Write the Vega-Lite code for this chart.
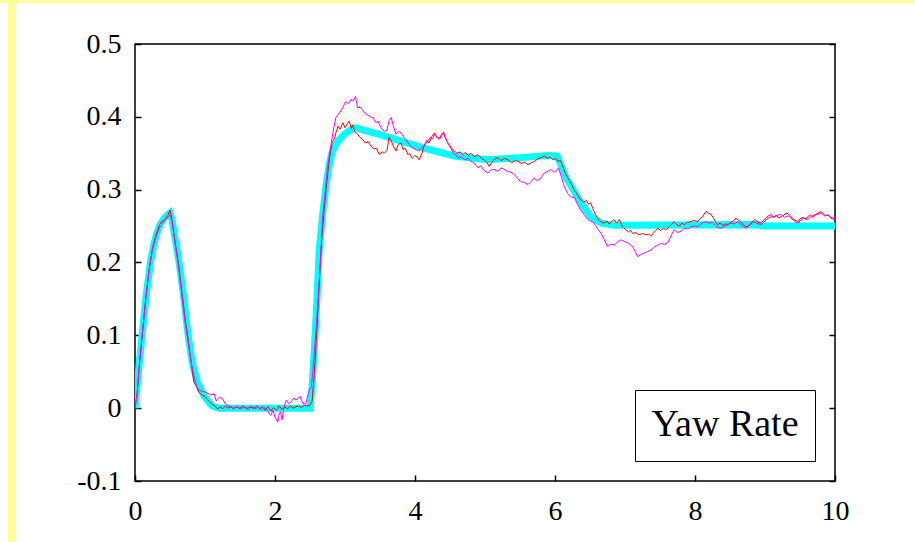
{
"$schema": "https://vega.github.io/schema/vega-lite/v6.json",
"background": "white",
"padding": 0,
"autosize": {"type": "pad"},
"config": {"view": {"stroke": null}, "concat": {"spacing": 0}},
"spacing": 0,
"resolve": {"scale": {"color": "independent"}, "legend": {"color": "independent"}},
"vconcat": [
 {"width": 915, "height": 3, "view": {"fill": "#ffff99", "stroke": null}, "data": {"values": []}, "mark": "point", "encoding": {}},
 {"spacing": 0,
  "resolve": {"scale": {"color": "independent"}, "legend": {"color": "independent"}},
  "hconcat": [
  {"width": 8, "height": 539, "view": {"stroke": null}, "data": {"values": []}, "mark": "point", "encoding": {}},
  {"width": 8, "height": 539, "view": {"fill": "#ffff99", "stroke": null}, "data": {"values": []}, "mark": "point", "encoding": {}},
  {"spacing": 0,
   "resolve": {"scale": {"color": "independent"}, "legend": {"color": "independent"}},
   "vconcat": [
   {"width": 1, "height": 26, "view": {"stroke": null}, "data": {"values": []}, "mark": "point", "encoding": {}},
  {
   "width": 700, "height": 437,
   "view": {"stroke": "black", "strokeWidth": 1.5, "fill": "white"},
   "data": {"values": [
{"s":"model","t":0,"v":0},{"s":"model","t":0.05,"v":0.05},{"s":"model","t":0.1,"v":0.1},{"s":"model","t":0.16,"v":0.155},{"s":"model","t":0.22,"v":0.2},{"s":"model","t":0.27,"v":0.225},{"s":"model","t":0.31,"v":0.24},{"s":"model","t":0.36,"v":0.252},{"s":"model","t":0.41,"v":0.26},{"s":"model","t":0.46,"v":0.265},{"s":"model","t":0.5,"v":0.268},{"s":"model","t":0.53,"v":0.258},{"s":"model","t":0.56,"v":0.24},{"s":"model","t":0.63,"v":0.2},{"s":"model","t":0.7,"v":0.149},{"s":"model","t":0.76,"v":0.099},{"s":"model","t":0.82,"v":0.061},{"s":"model","t":0.89,"v":0.036},{"s":"model","t":0.99,"v":0.016},{"s":"model","t":1.1,"v":0.003},{"s":"model","t":1.2,"v":0},{"s":"model","t":2.5,"v":0},{"s":"model","t":2.53,"v":0.03},{"s":"model","t":2.56,"v":0.077},{"s":"model","t":2.6,"v":0.15},{"s":"model","t":2.63,"v":0.215},{"s":"model","t":2.68,"v":0.265},{"s":"model","t":2.73,"v":0.307},{"s":"model","t":2.78,"v":0.337},{"s":"model","t":2.82,"v":0.353},{"s":"model","t":2.88,"v":0.364},{"s":"model","t":2.94,"v":0.371},{"s":"model","t":3.0,"v":0.377},{"s":"model","t":3.06,"v":0.381},{"s":"model","t":3.15,"v":0.385},{"s":"model","t":3.25,"v":0.382},{"s":"model","t":3.49,"v":0.376},{"s":"model","t":3.82,"v":0.366},{"s":"model","t":4.13,"v":0.357},{"s":"model","t":4.56,"v":0.346},{"s":"model","t":5.04,"v":0.341},{"s":"model","t":5.51,"v":0.344},{"s":"model","t":5.9,"v":0.347},{"s":"model","t":6.03,"v":0.346},{"s":"model","t":6.09,"v":0.333},{"s":"model","t":6.16,"v":0.316},{"s":"model","t":6.23,"v":0.305},{"s":"model","t":6.37,"v":0.282},{"s":"model","t":6.51,"v":0.263},{"s":"model","t":6.66,"v":0.254},{"s":"model","t":6.85,"v":0.251},{"s":"model","t":8.9,"v":0.252},{"s":"model","t":8.95,"v":0.25},{"s":"model","t":10,"v":0.25},
{"s":"run1","t":0,"v":0},{"s":"run1","t":0.03,"v":0.02},{"s":"run1","t":0.06,"v":0.058},{"s":"run1","t":0.1,"v":0.098},{"s":"run1","t":0.15,"v":0.148},{"s":"run1","t":0.2,"v":0.19},{"s":"run1","t":0.25,"v":0.22},{"s":"run1","t":0.3,"v":0.238},{"s":"run1","t":0.35,"v":0.252},{"s":"run1","t":0.38,"v":0.256},{"s":"run1","t":0.42,"v":0.258},{"s":"run1","t":0.47,"v":0.265},{"s":"run1","t":0.5,"v":0.272},{"s":"run1","t":0.53,"v":0.258},{"s":"run1","t":0.57,"v":0.23},{"s":"run1","t":0.62,"v":0.2},{"s":"run1","t":0.67,"v":0.16},{"s":"run1","t":0.72,"v":0.12},{"s":"run1","t":0.76,"v":0.095},{"s":"run1","t":0.8,"v":0.065},{"s":"run1","t":0.84,"v":0.036},{"s":"run1","t":0.88,"v":0.03},{"s":"run1","t":0.91,"v":0.022},{"s":"run1","t":0.96,"v":0.018},{"s":"run1","t":1.0,"v":0.016},{"s":"run1","t":1.05,"v":0.01},{"s":"run1","t":1.1,"v":0.006},
{"s":"run1","t":1.14,"v":0.003},{"s":"run1","t":1.18,"v":-0.001},{"s":"run1","t":1.22,"v":0.002},{"s":"run1","t":1.25,"v":-0.001},{"s":"run1","t":1.29,"v":0.003},{"s":"run1","t":1.33,"v":0.0},{"s":"run1","t":1.37,"v":0.002},{"s":"run1","t":1.41,"v":-0.001},{"s":"run1","t":1.45,"v":0.002},{"s":"run1","t":1.5,"v":0.0},{"s":"run1","t":1.54,"v":0.003},{"s":"run1","t":1.58,"v":0.0},{"s":"run1","t":1.62,"v":-0.002},{"s":"run1","t":1.66,"v":0.002},{"s":"run1","t":1.7,"v":0.0},{"s":"run1","t":1.74,"v":0.003},{"s":"run1","t":1.78,"v":-0.001},{"s":"run1","t":1.82,"v":0.002},{"s":"run1","t":1.86,"v":-0.003},{"s":"run1","t":1.9,"v":0.002},{"s":"run1","t":1.94,"v":-0.004},{"s":"run1","t":1.98,"v":0.001},{"s":"run1","t":2.02,"v":-0.003},{"s":"run1","t":2.06,"v":0.003},{"s":"run1","t":2.1,"v":-0.002},{"s":"run1","t":2.14,"v":0.002},{"s":"run1","t":2.18,"v":-0.001},{"s":"run1","t":2.22,"v":0.003},{"s":"run1","t":2.26,"v":0.0},{"s":"run1","t":2.3,"v":0.002},{"s":"run1","t":2.34,"v":0.003},{"s":"run1","t":2.38,"v":0.001},{"s":"run1","t":2.42,"v":0.004},{"s":"run1","t":2.46,"v":0.003},{"s":"run1","t":2.5,"v":0.004},
{"s":"run1","t":2.53,"v":0.01},{"s":"run1","t":2.56,"v":0.045},{"s":"run1","t":2.6,"v":0.11},{"s":"run1","t":2.63,"v":0.169},{"s":"run1","t":2.67,"v":0.235},{"s":"run1","t":2.7,"v":0.27},{"s":"run1","t":2.74,"v":0.31},{"s":"run1","t":2.78,"v":0.344},{"s":"run1","t":2.82,"v":0.366},{"s":"run1","t":2.85,"v":0.37},{"s":"run1","t":2.87,"v":0.378},{"s":"run1","t":2.9,"v":0.387},{"s":"run1","t":2.93,"v":0.383},{"s":"run1","t":2.97,"v":0.392},{"s":"run1","t":3.0,"v":0.385},{"s":"run1","t":3.03,"v":0.39},{"s":"run1","t":3.06,"v":0.394},{"s":"run1","t":3.09,"v":0.384},{"s":"run1","t":3.11,"v":0.389},{"s":"run1","t":3.14,"v":0.38},{"s":"run1","t":3.18,"v":0.376},{"s":"run1","t":3.21,"v":0.372},{"s":"run1","t":3.25,"v":0.369},{"s":"run1","t":3.29,"v":0.364},{"s":"run1","t":3.33,"v":0.366},{"s":"run1","t":3.37,"v":0.36},{"s":"run1","t":3.41,"v":0.356},{"s":"run1","t":3.45,"v":0.357},{"s":"run1","t":3.49,"v":0.348},{"s":"run1","t":3.53,"v":0.352},{"s":"run1","t":3.56,"v":0.35},{"s":"run1","t":3.6,"v":0.354},{"s":"run1","t":3.63,"v":0.372},{"s":"run1","t":3.66,"v":0.367},{"s":"run1","t":3.69,"v":0.36},{"s":"run1","t":3.73,"v":0.353},{"s":"run1","t":3.76,"v":0.362},{"s":"run1","t":3.8,"v":0.364},{"s":"run1","t":3.83,"v":0.355},{"s":"run1","t":3.86,"v":0.357},{"s":"run1","t":3.9,"v":0.348},{"s":"run1","t":3.92,"v":0.35},{"s":"run1","t":3.96,"v":0.343},{"s":"run1","t":4.0,"v":0.347},{"s":"run1","t":4.04,"v":0.344},{"s":"run1","t":4.06,"v":0.341},{"s":"run1","t":4.1,"v":0.35},{"s":"run1","t":4.13,"v":0.36},{"s":"run1","t":4.17,"v":0.368},{"s":"run1","t":4.2,"v":0.364},{"s":"run1","t":4.24,"v":0.373},{"s":"run1","t":4.28,"v":0.378},{"s":"run1","t":4.31,"v":0.372},{"s":"run1","t":4.35,"v":0.371},{"s":"run1","t":4.38,"v":0.376},{"s":"run1","t":4.41,"v":0.379},{"s":"run1","t":4.44,"v":0.37},{"s":"run1","t":4.47,"v":0.364},{"s":"run1","t":4.5,"v":0.36},{"s":"run1","t":4.53,"v":0.356},{"s":"run1","t":4.56,"v":0.353},{"s":"run1","t":4.6,"v":0.35},{"s":"run1","t":4.64,"v":0.352},{"s":"run1","t":4.68,"v":0.348},{"s":"run1","t":4.72,"v":0.351},{"s":"run1","t":4.76,"v":0.347},{"s":"run1","t":4.8,"v":0.35},{"s":"run1","t":4.85,"v":0.345},{"s":"run1","t":4.9,"v":0.348},{"s":"run1","t":4.95,"v":0.343},{"s":"run1","t":4.99,"v":0.341},{"s":"run1","t":5.03,"v":0.337},{"s":"run1","t":5.06,"v":0.332},{"s":"run1","t":5.1,"v":0.338},{"s":"run1","t":5.14,"v":0.342},{"s":"run1","t":5.18,"v":0.344},{"s":"run1","t":5.23,"v":0.34},{"s":"run1","t":5.28,"v":0.343},{"s":"run1","t":5.33,"v":0.341},{"s":"run1","t":5.38,"v":0.337},{"s":"run1","t":5.43,"v":0.34},{"s":"run1","t":5.47,"v":0.339},{"s":"run1","t":5.52,"v":0.336},{"s":"run1","t":5.57,"v":0.338},{"s":"run1","t":5.61,"v":0.334},{"s":"run1","t":5.66,"v":0.337},{"s":"run1","t":5.71,"v":0.339},{"s":"run1","t":5.75,"v":0.342},{"s":"run1","t":5.8,"v":0.344},{"s":"run1","t":5.85,"v":0.346},{"s":"run1","t":5.89,"v":0.343},{"s":"run1","t":5.93,"v":0.345},{"s":"run1","t":5.97,"v":0.341},{"s":"run1","t":6.01,"v":0.343},{"s":"run1","t":6.04,"v":0.339},{"s":"run1","t":6.08,"v":0.34},{"s":"run1","t":6.11,"v":0.332},{"s":"run1","t":6.15,"v":0.322},{"s":"run1","t":6.19,"v":0.315},{"s":"run1","t":6.23,"v":0.309},{"s":"run1","t":6.27,"v":0.3},{"s":"run1","t":6.3,"v":0.296},{"s":"run1","t":6.34,"v":0.29},{"s":"run1","t":6.37,"v":0.286},{"s":"run1","t":6.41,"v":0.283},{"s":"run1","t":6.45,"v":0.285},{"s":"run1","t":6.48,"v":0.28},{"s":"run1","t":6.51,"v":0.282},{"s":"run1","t":6.54,"v":0.274},{"s":"run1","t":6.56,"v":0.27},{"s":"run1","t":6.6,"v":0.262},{"s":"run1","t":6.63,"v":0.258},{"s":"run1","t":6.66,"v":0.256},{"s":"run1","t":6.7,"v":0.254},{"s":"run1","t":6.74,"v":0.257},{"s":"run1","t":6.77,"v":0.253},{"s":"run1","t":6.8,"v":0.255},{"s":"run1","t":6.84,"v":0.259},{"s":"run1","t":6.88,"v":0.254},{"s":"run1","t":6.92,"v":0.259},{"s":"run1","t":6.96,"v":0.25},{"s":"run1","t":7.01,"v":0.245},{"s":"run1","t":7.05,"v":0.242},{"s":"run1","t":7.08,"v":0.244},{"s":"run1","t":7.11,"v":0.24},{"s":"run1","t":7.15,"v":0.241},{"s":"run1","t":7.2,"v":0.238},{"s":"run1","t":7.25,"v":0.24},{"s":"run1","t":7.3,"v":0.238},{"s":"run1","t":7.34,"v":0.239},{"s":"run1","t":7.37,"v":0.236},{"s":"run1","t":7.4,"v":0.24},{"s":"run1","t":7.44,"v":0.244},{"s":"run1","t":7.47,"v":0.247},{"s":"run1","t":7.51,"v":0.244},{"s":"run1","t":7.55,"v":0.247},{"s":"run1","t":7.58,"v":0.245},{"s":"run1","t":7.61,"v":0.247},{"s":"run1","t":7.65,"v":0.251},{"s":"run1","t":7.7,"v":0.256},{"s":"run1","t":7.74,"v":0.252},{"s":"run1","t":7.78,"v":0.25},{"s":"run1","t":7.81,"v":0.254},{"s":"run1","t":7.85,"v":0.252},{"s":"run1","t":7.89,"v":0.255},{"s":"run1","t":7.94,"v":0.256},{"s":"run1","t":7.99,"v":0.258},{"s":"run1","t":8.03,"v":0.256},{"s":"run1","t":8.07,"v":0.26},{"s":"run1","t":8.11,"v":0.263},{"s":"run1","t":8.14,"v":0.268},{"s":"run1","t":8.16,"v":0.27},{"s":"run1","t":8.19,"v":0.268},{"s":"run1","t":8.23,"v":0.266},{"s":"run1","t":8.27,"v":0.26},{"s":"run1","t":8.3,"v":0.255},{"s":"run1","t":8.32,"v":0.252},{"s":"run1","t":8.36,"v":0.254},{"s":"run1","t":8.4,"v":0.251},{"s":"run1","t":8.44,"v":0.253},{"s":"run1","t":8.47,"v":0.252},{"s":"run1","t":8.51,"v":0.255},{"s":"run1","t":8.55,"v":0.257},{"s":"run1","t":8.58,"v":0.261},{"s":"run1","t":8.61,"v":0.259},{"s":"run1","t":8.65,"v":0.256},{"s":"run1","t":8.69,"v":0.252},{"s":"run1","t":8.72,"v":0.25},{"s":"run1","t":8.75,"v":0.249},{"s":"run1","t":8.79,"v":0.253},{"s":"run1","t":8.82,"v":0.256},{"s":"run1","t":8.85,"v":0.259},{"s":"run1","t":8.88,"v":0.257},{"s":"run1","t":8.91,"v":0.255},{"s":"run1","t":8.94,"v":0.254},{"s":"run1","t":8.98,"v":0.258},{"s":"run1","t":9.02,"v":0.262},{"s":"run1","t":9.05,"v":0.264},{"s":"run1","t":9.09,"v":0.266},{"s":"run1","t":9.12,"v":0.262},{"s":"run1","t":9.16,"v":0.265},{"s":"run1","t":9.2,"v":0.261},{"s":"run1","t":9.23,"v":0.263},{"s":"run1","t":9.27,"v":0.265},{"s":"run1","t":9.3,"v":0.268},{"s":"run1","t":9.33,"v":0.267},{"s":"run1","t":9.36,"v":0.264},{"s":"run1","t":9.4,"v":0.26},{"s":"run1","t":9.43,"v":0.258},{"s":"run1","t":9.47,"v":0.256},{"s":"run1","t":9.5,"v":0.26},{"s":"run1","t":9.54,"v":0.262},{"s":"run1","t":9.58,"v":0.259},{"s":"run1","t":9.61,"v":0.263},{"s":"run1","t":9.65,"v":0.265},{"s":"run1","t":9.69,"v":0.262},{"s":"run1","t":9.72,"v":0.266},{"s":"run1","t":9.76,"v":0.268},{"s":"run1","t":9.8,"v":0.27},{"s":"run1","t":9.83,"v":0.267},{"s":"run1","t":9.87,"v":0.264},{"s":"run1","t":9.9,"v":0.266},{"s":"run1","t":9.93,"v":0.262},{"s":"run1","t":9.96,"v":0.26},{"s":"run1","t":10,"v":0.259},
{"s":"run2","t":0,"v":0},{"s":"run2","t":0.03,"v":0.018},{"s":"run2","t":0.06,"v":0.055},{"s":"run2","t":0.1,"v":0.095},{"s":"run2","t":0.15,"v":0.145},{"s":"run2","t":0.2,"v":0.188},{"s":"run2","t":0.25,"v":0.218},{"s":"run2","t":0.3,"v":0.235},{"s":"run2","t":0.35,"v":0.248},{"s":"run2","t":0.4,"v":0.255},{"s":"run2","t":0.45,"v":0.26},{"s":"run2","t":0.5,"v":0.266},{"s":"run2","t":0.53,"v":0.255},{"s":"run2","t":0.57,"v":0.228},{"s":"run2","t":0.62,"v":0.195},{"s":"run2","t":0.67,"v":0.155},{"s":"run2","t":0.72,"v":0.115},{"s":"run2","t":0.76,"v":0.09},{"s":"run2","t":0.8,"v":0.065},{"s":"run2","t":0.84,"v":0.045},{"s":"run2","t":0.88,"v":0.03},{"s":"run2","t":0.91,"v":0.025},{"s":"run2","t":0.96,"v":0.023},{"s":"run2","t":1.01,"v":0.022},{"s":"run2","t":1.05,"v":0.02},{"s":"run2","t":1.09,"v":0.018},{"s":"run2","t":1.13,"v":0.02},{"s":"run2","t":1.16,"v":0.01},{"s":"run2","t":1.2,"v":0.015},{"s":"run2","t":1.25,"v":0.013},{"s":"run2","t":1.29,"v":0.006},{"s":"run2","t":1.32,"v":0.004},{"s":"run2","t":1.36,"v":0.002},{"s":"run2","t":1.4,"v":0.0},{"s":"run2","t":1.45,"v":0.002},{"s":"run2","t":1.5,"v":-0.001},{"s":"run2","t":1.55,"v":0.001},{"s":"run2","t":1.6,"v":0.0},{"s":"run2","t":1.65,"v":0.002},{"s":"run2","t":1.7,"v":-0.001},{"s":"run2","t":1.76,"v":0.001},{"s":"run2","t":1.82,"v":-0.002},{"s":"run2","t":1.86,"v":0.001},{"s":"run2","t":1.9,"v":-0.005},{"s":"run2","t":1.94,"v":-0.01},{"s":"run2","t":1.97,"v":-0.003},{"s":"run2","t":2.0,"v":-0.012},{"s":"run2","t":2.04,"v":-0.019},{"s":"run2","t":2.06,"v":-0.008},{"s":"run2","t":2.08,"v":-0.005},{"s":"run2","t":2.1,"v":-0.016},{"s":"run2","t":2.13,"v":0.002},{"s":"run2","t":2.16,"v":0.011},{"s":"run2","t":2.2,"v":0.006},{"s":"run2","t":2.23,"v":0.009},{"s":"run2","t":2.27,"v":0.014},{"s":"run2","t":2.3,"v":0.011},{"s":"run2","t":2.32,"v":0.013},{"s":"run2","t":2.36,"v":0.016},{"s":"run2","t":2.4,"v":0.006},{"s":"run2","t":2.44,"v":0.006},{"s":"run2","t":2.47,"v":0.018},{"s":"run2","t":2.49,"v":0.025},{"s":"run2","t":2.52,"v":0.03},{"s":"run2","t":2.54,"v":0.05},{"s":"run2","t":2.58,"v":0.1},{"s":"run2","t":2.63,"v":0.169},{"s":"run2","t":2.68,"v":0.261},{"s":"run2","t":2.72,"v":0.3},{"s":"run2","t":2.75,"v":0.33},{"s":"run2","t":2.8,"v":0.362},{"s":"run2","t":2.84,"v":0.385},{"s":"run2","t":2.87,"v":0.399},{"s":"run2","t":2.9,"v":0.403},{"s":"run2","t":2.94,"v":0.408},{"s":"run2","t":2.97,"v":0.413},{"s":"run2","t":3.01,"v":0.421},{"s":"run2","t":3.05,"v":0.418},{"s":"run2","t":3.09,"v":0.424},{"s":"run2","t":3.12,"v":0.422},{"s":"run2","t":3.15,"v":0.428},{"s":"run2","t":3.18,"v":0.412},{"s":"run2","t":3.21,"v":0.414},{"s":"run2","t":3.25,"v":0.41},{"s":"run2","t":3.29,"v":0.404},{"s":"run2","t":3.32,"v":0.403},{"s":"run2","t":3.36,"v":0.4},{"s":"run2","t":3.4,"v":0.399},{"s":"run2","t":3.44,"v":0.392},{"s":"run2","t":3.47,"v":0.394},{"s":"run2","t":3.51,"v":0.386},{"s":"run2","t":3.53,"v":0.383},{"s":"run2","t":3.56,"v":0.38},{"s":"run2","t":3.6,"v":0.382},{"s":"run2","t":3.63,"v":0.395},{"s":"run2","t":3.66,"v":0.399},{"s":"run2","t":3.69,"v":0.388},{"s":"run2","t":3.73,"v":0.376},{"s":"run2","t":3.76,"v":0.38},{"s":"run2","t":3.8,"v":0.378},{"s":"run2","t":3.84,"v":0.372},{"s":"run2","t":3.87,"v":0.369},{"s":"run2","t":3.91,"v":0.363},{"s":"run2","t":3.94,"v":0.36},{"s":"run2","t":3.97,"v":0.357},{"s":"run2","t":4.02,"v":0.355},{"s":"run2","t":4.06,"v":0.353},{"s":"run2","t":4.09,"v":0.357},{"s":"run2","t":4.13,"v":0.36},{"s":"run2","t":4.18,"v":0.366},{"s":"run2","t":4.22,"v":0.372},{"s":"run2","t":4.25,"v":0.37},{"s":"run2","t":4.28,"v":0.376},{"s":"run2","t":4.31,"v":0.372},{"s":"run2","t":4.35,"v":0.369},{"s":"run2","t":4.38,"v":0.374},{"s":"run2","t":4.4,"v":0.378},{"s":"run2","t":4.43,"v":0.372},{"s":"run2","t":4.46,"v":0.366},{"s":"run2","t":4.49,"v":0.36},{"s":"run2","t":4.51,"v":0.357},{"s":"run2","t":4.55,"v":0.35},{"s":"run2","t":4.58,"v":0.348},{"s":"run2","t":4.61,"v":0.344},{"s":"run2","t":4.66,"v":0.345},{"s":"run2","t":4.71,"v":0.341},{"s":"run2","t":4.76,"v":0.343},{"s":"run2","t":4.8,"v":0.339},{"s":"run2","t":4.85,"v":0.336},{"s":"run2","t":4.9,"v":0.33},{"s":"run2","t":4.94,"v":0.333},{"s":"run2","t":4.99,"v":0.326},{"s":"run2","t":5.04,"v":0.323},{"s":"run2","t":5.08,"v":0.327},{"s":"run2","t":5.13,"v":0.328},{"s":"run2","t":5.18,"v":0.325},{"s":"run2","t":5.23,"v":0.33},{"s":"run2","t":5.27,"v":0.328},{"s":"run2","t":5.32,"v":0.325},{"s":"run2","t":5.37,"v":0.324},{"s":"run2","t":5.42,"v":0.321},{"s":"run2","t":5.46,"v":0.316},{"s":"run2","t":5.51,"v":0.311},{"s":"run2","t":5.56,"v":0.31},{"s":"run2","t":5.61,"v":0.307},{"s":"run2","t":5.65,"v":0.31},{"s":"run2","t":5.7,"v":0.316},{"s":"run2","t":5.74,"v":0.313},{"s":"run2","t":5.78,"v":0.314},{"s":"run2","t":5.82,"v":0.319},{"s":"run2","t":5.85,"v":0.323},{"s":"run2","t":5.9,"v":0.325},{"s":"run2","t":5.94,"v":0.328},{"s":"run2","t":5.98,"v":0.324},{"s":"run2","t":6.01,"v":0.325},{"s":"run2","t":6.05,"v":0.33},{"s":"run2","t":6.09,"v":0.318},{"s":"run2","t":6.13,"v":0.305},{"s":"run2","t":6.18,"v":0.295},{"s":"run2","t":6.23,"v":0.29},{"s":"run2","t":6.28,"v":0.289},{"s":"run2","t":6.32,"v":0.28},{"s":"run2","t":6.37,"v":0.272},{"s":"run2","t":6.42,"v":0.265},{"s":"run2","t":6.47,"v":0.259},{"s":"run2","t":6.51,"v":0.257},{"s":"run2","t":6.56,"v":0.254},{"s":"run2","t":6.61,"v":0.246},{"s":"run2","t":6.66,"v":0.24},{"s":"run2","t":6.7,"v":0.232},{"s":"run2","t":6.75,"v":0.222},{"s":"run2","t":6.8,"v":0.225},{"s":"run2","t":6.85,"v":0.224},{"s":"run2","t":6.9,"v":0.229},{"s":"run2","t":6.94,"v":0.231},{"s":"run2","t":6.99,"v":0.229},{"s":"run2","t":7.04,"v":0.227},{"s":"run2","t":7.08,"v":0.224},{"s":"run2","t":7.11,"v":0.222},{"s":"run2","t":7.15,"v":0.214},{"s":"run2","t":7.18,"v":0.208},{"s":"run2","t":7.23,"v":0.211},{"s":"run2","t":7.28,"v":0.213},{"s":"run2","t":7.32,"v":0.215},{"s":"run2","t":7.37,"v":0.217},{"s":"run2","t":7.42,"v":0.221},{"s":"run2","t":7.47,"v":0.224},{"s":"run2","t":7.51,"v":0.226},{"s":"run2","t":7.56,"v":0.225},{"s":"run2","t":7.61,"v":0.227},{"s":"run2","t":7.65,"v":0.235},{"s":"run2","t":7.7,"v":0.245},{"s":"run2","t":7.75,"v":0.241},{"s":"run2","t":7.8,"v":0.243},{"s":"run2","t":7.85,"v":0.247},{"s":"run2","t":7.9,"v":0.246},{"s":"run2","t":7.94,"v":0.249},{"s":"run2","t":7.99,"v":0.25},{"s":"run2","t":8.04,"v":0.249},{"s":"run2","t":8.08,"v":0.253},{"s":"run2","t":8.12,"v":0.255},{"s":"run2","t":8.16,"v":0.256},{"s":"run2","t":8.2,"v":0.254},{"s":"run2","t":8.25,"v":0.255},{"s":"run2","t":8.29,"v":0.251},{"s":"run2","t":8.33,"v":0.248},{"s":"run2","t":8.37,"v":0.247},{"s":"run2","t":8.42,"v":0.25},{"s":"run2","t":8.47,"v":0.252},{"s":"run2","t":8.51,"v":0.254},{"s":"run2","t":8.56,"v":0.253},{"s":"run2","t":8.61,"v":0.256},{"s":"run2","t":8.65,"v":0.253},{"s":"run2","t":8.69,"v":0.249},{"s":"run2","t":8.73,"v":0.247},{"s":"run2","t":8.78,"v":0.251},{"s":"run2","t":8.83,"v":0.256},{"s":"run2","t":8.88,"v":0.254},{"s":"run2","t":8.94,"v":0.252},{"s":"run2","t":8.98,"v":0.255},{"s":"run2","t":9.03,"v":0.26},{"s":"run2","t":9.09,"v":0.263},{"s":"run2","t":9.13,"v":0.262},{"s":"run2","t":9.18,"v":0.265},{"s":"run2","t":9.23,"v":0.266},{"s":"run2","t":9.28,"v":0.262},{"s":"run2","t":9.33,"v":0.264},{"s":"run2","t":9.37,"v":0.261},{"s":"run2","t":9.42,"v":0.257},{"s":"run2","t":9.47,"v":0.254},{"s":"run2","t":9.52,"v":0.259},{"s":"run2","t":9.56,"v":0.261},{"s":"run2","t":9.61,"v":0.259},{"s":"run2","t":9.66,"v":0.263},{"s":"run2","t":9.7,"v":0.265},{"s":"run2","t":9.75,"v":0.266},{"s":"run2","t":9.8,"v":0.268},{"s":"run2","t":9.85,"v":0.264},{"s":"run2","t":9.9,"v":0.265},{"s":"run2","t":9.96,"v":0.261},{"s":"run2","t":10,"v":0.262}
   ]},
   "layer": [
    {
     "transform": [{"filter": "datum.s == 'model'"}],
     "mark": {"type": "line", "strokeWidth": 7, "clip": true},
     "encoding": {
      "x": {"field": "t", "type": "quantitative", "scale": {"domain": [0, 10], "nice": false},
            "axis": {"orient": "bottom", "title": null, "values": [0, 2, 4, 6, 8, 10], "grid": false, "domain": false,
                     "tickSize": -6, "tickColor": "black", "tickWidth": 1.5, "labelPadding": 22, "labelFlush": false, "labelOverlap": false,
                     "labelFont": "Liberation Serif", "labelFontSize": 28, "labelColor": "black"}},
      "y": {"field": "v", "type": "quantitative", "scale": {"domain": [-0.1, 0.5], "nice": false, "zero": false},
            "axis": {"orient": "left", "title": null, "values": [-0.1, 0, 0.1, 0.2, 0.3, 0.4, 0.5], "grid": false, "domain": false,
                     "tickSize": -6, "tickColor": "black", "tickWidth": 1.5, "labelPadding": 20, "minExtent": 118, "labelOverlap": false, "labelFlush": false,
                     "labelExpr": "datum.value == 0 ? '0' : (datum.value < 0 ? '-' + format(-datum.value, '.1f') : format(datum.value, '.1f'))",
                     "labelFont": "Liberation Serif", "labelFontSize": 28, "labelColor": "black"}},
      "color": {"field": "s", "type": "nominal", "scale": {"domain": ["model", "run1", "run2"], "range": ["#00ffff", "#ff0000", "#ff00ff"]},
                "legend": {"orient": "bottom-right", "offset": 20, "values": ["model"],
                           "title": "Yaw Rate", "titleFont": "Liberation Serif", "titleFontSize": 38, "titleFontWeight": "normal", "titleColor": "black",
                           "titlePadding": 0, "titleAnchor": "middle",
                           "labelExpr": "''", "labelFontSize": 1, "labelOffset": 0,
                           "strokeColor": "black", "fillColor": "white", "padding": 16,
                           "symbolType": "circle", "symbolSize": 1, "symbolStrokeWidth": 0, "symbolOpacity": 0}}
     }
    },
    {
     "transform": [{"filter": "datum.s == 'run1'"}],
     "mark": {"type": "line", "strokeWidth": 1, "clip": true},
     "encoding": {
      "x": {"field": "t", "type": "quantitative", "axis": null},
      "y": {"field": "v", "type": "quantitative", "scale": {"domain": [-0.1, 0.5], "nice": false, "zero": false},
            "axis": {"orient": "right", "title": null, "values": [-0.1, 0, 0.1, 0.2, 0.3, 0.4, 0.5], "labels": false, "grid": false, "domain": false,
                     "tickSize": -6, "tickColor": "black", "tickWidth": 1.5}},
      "color": {"field": "s", "type": "nominal"}
     }
    },
    {
     "transform": [{"filter": "datum.s == 'run2'"}],
     "mark": {"type": "line", "strokeWidth": 1, "clip": true},
     "encoding": {
      "x": {"field": "t", "type": "quantitative", "axis": null},
      "y": {"field": "v", "type": "quantitative", "axis": null},
      "color": {"field": "s", "type": "nominal"}
     }
    }
   ],
   "resolve": {"axis": {"x": "independent", "y": "independent"}}
  }
  ]}
 ]}
]
}
